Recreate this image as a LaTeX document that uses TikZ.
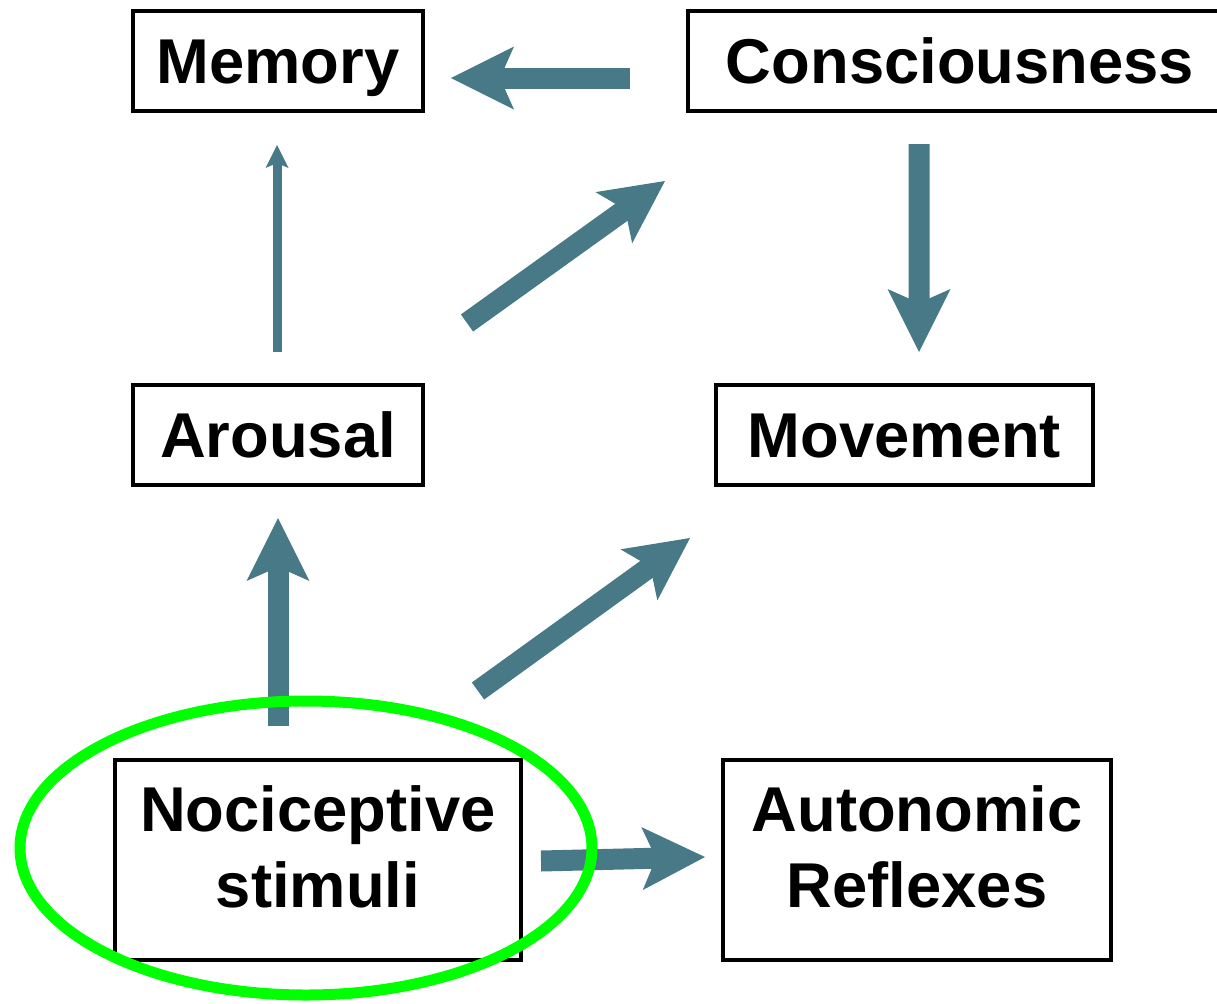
\documentclass[tikz,border=0pt]{standalone}
\usepackage{fontspec}
\setmainfont{Liberation Sans}
\usetikzlibrary{arrows.meta}
\definecolor{flow}{RGB}{71,121,135}
\definecolor{ring}{RGB}{0,255,0}
\begin{document}
\begin{tikzpicture}[x=0.3pt,y=-0.3pt,
  box/.style={draw, line width=1.2pt, inner sep=0pt, outer sep=0pt,
    font=\fontsize{19}{22.8}\selectfont\bfseries, align=center},
  oneline/.style={box, minimum height=30pt, text height=13.6pt, text depth=0pt},
  twoline/.style={box, minimum height=60pt, text depth=7.8pt},
  bigarrow/.style={draw=flow, line width=6.3pt,
    -{Stealth[length=18.9pt,width=18.9pt,inset=4.2pt,line width=0pt]}},
  thinarrow/.style={draw=flow, line width=2.7pt,
    -{Stealth[length=6.9pt,width=6.9pt,inset=1.5pt,line width=0pt]}}]
\useasboundingbox (0,0) rectangle (1217,1003);
\clip (0,0) rectangle (1217,1003);

% boxes
\node[oneline, minimum width=87pt]    (mem)  at (278,61)    {Memory};
\node[oneline, minimum width=163.2pt] (cons) at (960,61)    {Consciousness};
\node[oneline, minimum width=87pt]    (aro)  at (278,435)   {Arousal};
\node[oneline, minimum width=113.1pt] (mov)  at (904.5,435) {Movement};
\node[twoline, minimum width=121.8pt] (noc)  at (318,860)   {Nociceptive\\stimuli};
\node[twoline, minimum width=116.4pt] (aut)  at (917,860)   {Autonomic\\Reflexes};

% pathways
\draw[bigarrow]  ([shift={(-58,17)}]cons.west) -- ([shift={(28,17)}]mem.east);
\draw[thinarrow] ([shift={(-1,-33)}]aro.north) -- ([shift={(-1,34)}]mem.south);
\draw[bigarrow]  ([shift={(44,-62)}]aro.north east) -- ([shift={(-23,70)}]cons.south west);
\draw[bigarrow]  ([shift={(-41,33)}]cons.south) -- ([shift={(14.5,-33)}]mov.north);
\draw[bigarrow]  ([shift={(-40,-34)}]noc.north) -- ([shift={(0,33)}]aro.south);
\draw[bigarrow]  ([shift={(-43,-69)}]noc.north east) -- ([shift={(-26,53)}]mov.south west);
\draw[bigarrow]  ([shift={(20,1)}]noc.east) -- ([shift={(-18,-3)}]aut.west);

% highlight ring around the stimulus box
\draw[ring, line width=3.3pt]
  (306,848) ellipse [x radius=85.8pt, y radius=44.1pt];
\end{tikzpicture}
\end{document}
